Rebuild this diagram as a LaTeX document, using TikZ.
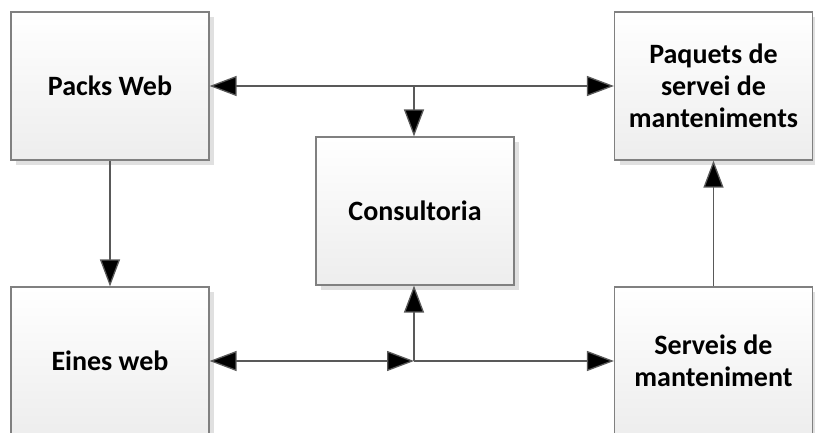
\documentclass[tikz,border=0pt]{standalone}
\usepackage{fontspec}
\setmainfont{Carlito}
\usetikzlibrary{arrows.meta,shadows}
\tikzset{
  block/.style={draw=black!50, line width=1.2pt, rectangle,
    minimum width=198pt, minimum height=148pt, inner sep=0pt,
    top color=white, bottom color=black!7,
    align=center, font=\fontsize{28}{32}\selectfont\bfseries,
    drop shadow={shadow xshift=5pt, shadow yshift=-5pt, fill=black!12, opacity=1}},
  link/.style={draw=black!65, line width=1.3pt,
    -{Triangle[length=27pt,width=20pt,fill=black]}},
  twoway/.style={draw=black!65, line width=1.3pt,
    {Triangle[length=27pt,width=20pt,fill=black]}-{Triangle[length=27pt,width=20pt,fill=black]}}
}
\begin{document}
\begin{tikzpicture}[x=1pt,y=-1pt]
\useasboundingbox (0,0) rectangle (815,433);
\clip (0,0) rectangle (815,433);
\fill[white] (0,0) rectangle (815,433);

% boxes
\node[block] (packs) at (110,86) {Packs Web};
\node[block] (paquets) at (713.5,86) {Paquets de\\servei de\\manteniments};
\node[block] (cons) at (415,211) {Consultoria};
\node[block] (eines) at (110,361) {Eines web};
\node[block] (serv) at (713.5,361) {Serveis de\\manteniment};

% junction points on the two horizontal buses
\coordinate (jt) at (414,86);
\coordinate (jb) at (414,361);

% upper bus
\draw[twoway] (packs.east) -- (paquets.west);
\draw[link] (jt) -- (jt |- cons.north);

% lower bus
\draw[twoway] (eines.east) -- (jb);
\draw[link] (jb) -- (serv.west);
\draw[link] (jb) -- (jb |- cons.south);

% vertical links
\draw[link] (packs.south) -- (eines.north);
\draw[link] (serv.north) -- (paquets.south);
\end{tikzpicture}
\end{document}
